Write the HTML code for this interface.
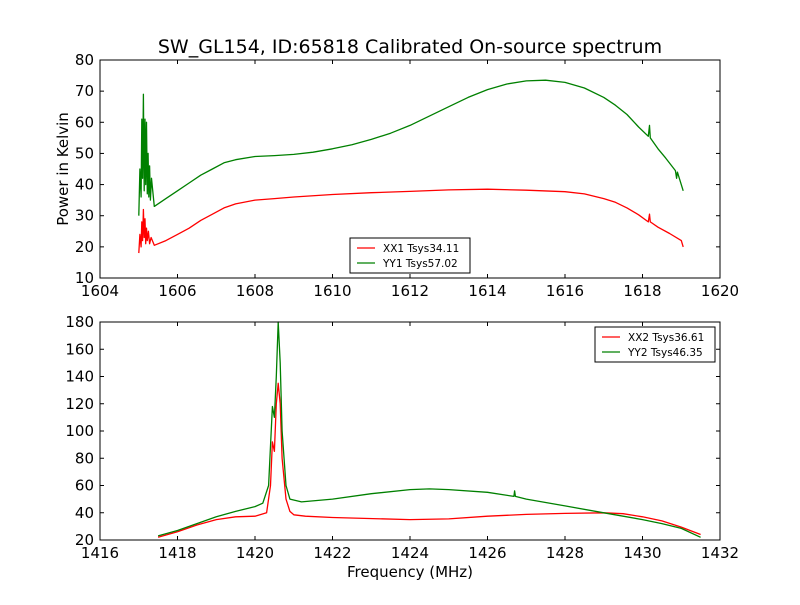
<!DOCTYPE html>
<html><head><meta charset="utf-8"><style>
body{margin:0;background:#fff;}
svg text{font-family:"DejaVu Sans","Liberation Sans",sans-serif;}
</style></head><body>
<svg id="c" width="800" height="600" viewBox="0 0 800 600">
<rect width="800" height="600" fill="#fff"/>
<text x="410" y="53" font-size="19" text-anchor="middle">SW_GL154, ID:65818 Calibrated On-source spectrum</text>
<g id="top"></g>
<g id="bot"></g>
<text x="410" y="577" font-size="15" text-anchor="middle">Frequency (MHz)</text>
<text transform="translate(68,169) rotate(-90)" font-size="15" text-anchor="middle">Power in Kelvin</text>
</svg>
<script>
const topXTicks=[1604,1606,1608,1610,1612,1614,1616,1618,1620];
const topYTicks=[10,20,30,40,50,60,70,80];
const botXTicks=[1416,1418,1420,1422,1424,1426,1428,1430,1432];
const botYTicks=[20,40,60,80,100,120,140,160,180];
const topGreenF=[1605.0,1605.03,1605.06,1605.08,1605.1,1605.12,1605.14,1605.16,1605.18,1605.2,1605.22,1605.24,1605.26,1605.28,1605.3,1605.33,1605.4,1605.7,1606,1606.3,1606.6,1606.9,1607.2,1607.5,1608,1608.5,1609,1609.5,1610,1610.5,1611,1611.5,1612,1612.5,1613,1613.5,1614,1614.5,1615,1615.5,1616,1616.5,1617,1617.3,1617.6,1617.9,1618.15,1618.18,1618.2,1618.4,1618.6,1618.85,1618.88,1618.9,1619.05];
const topGreenV=[30,45,36,61,42,69,38,61,40,60,37,50,36,46,35,42,33,35.5,38,40.5,43,45,47,48,49,49.3,49.7,50.4,51.5,52.8,54.5,56.5,59,62,65,68,70.5,72.3,73.3,73.5,72.8,71,68,65.5,62.5,58.5,55.5,59,55,51.5,48.5,44.5,42,44,38];
const topRedF=[1605.0,1605.03,1605.06,1605.08,1605.1,1605.12,1605.14,1605.16,1605.18,1605.2,1605.22,1605.25,1605.28,1605.32,1605.4,1605.7,1606,1606.3,1606.6,1606.9,1607.2,1607.5,1608,1608.5,1609,1610,1611,1612,1613,1614,1615,1616,1616.5,1617,1617.3,1617.6,1617.9,1618.15,1618.18,1618.2,1618.4,1618.7,1619,1619.05];
const topRedV=[18,24,20,28,22,32,23,29,21,26,22,25,21,23,20.5,22,24,26,28.5,30.5,32.5,33.8,35,35.5,36,36.8,37.4,37.8,38.3,38.5,38.2,37.7,37,35.5,34.3,32.5,30.3,28,30.5,28,26.3,24.3,22,20];
const botGreenF=[1417.5,1418,1418.5,1419,1419.5,1420,1420.2,1420.35,1420.45,1420.5,1420.55,1420.6,1420.65,1420.7,1420.8,1420.9,1421.2,1422,1423,1424,1424.5,1425,1426,1426.68,1426.7,1426.72,1427,1428,1429,1430,1430.5,1431,1431.5];
const botGreenV=[23,27,32,37,41,44.5,47,60,118,110,140,180,150,100,60,50,48,50,54,57,57.5,57,55,52,56,52,50,45,40,35,32,28.5,22];
const botRedF=[1417.5,1418,1418.5,1419,1419.5,1420,1420.3,1420.4,1420.45,1420.5,1420.55,1420.6,1420.65,1420.7,1420.8,1420.9,1421,1421.3,1422,1424,1425,1426,1427,1428,1429,1429.5,1430,1430.5,1431,1431.5];
const botRedV=[22,26,31,35,37,37.5,40,60,92,85,120,135,120,80,50,41,38.5,37.5,36.5,35,35.5,37.5,38.8,39.5,40,39.3,37,34,29.5,24];
const NS='http://www.w3.org/2000/svg';
function mk(t,a,p){const e=document.createElementNS(NS,t);for(const k in a)e.setAttribute(k,a[k]);p.appendChild(e);return e;}
function panel(g,L,T,R,B,xt,yt,series,legend,lx,ly,lw){
 const x0=xt[0],x1=xt[xt.length-1],y0=yt[0],y1=yt[yt.length-1];
 const sx=v=>L+(v-x0)/(x1-x0)*(R-L), sy=v=>B-(v-y0)/(y1-y0)*(B-T);
 series.forEach(s=>{
  const p=mk('polyline',{points:s.f.map((f,i)=>sx(f).toFixed(1)+','+sy(s.v[i]).toFixed(1)).join(' '),fill:'none',stroke:s.c,'stroke-width':1.3,'stroke-linejoin':'round'},g);
  
  
 });
 const fr=mk('rect',{x:L,y:T,width:R-L,height:B-T,fill:'none',stroke:'#000','stroke-width':1},g);
 
 
 xt.forEach(v=>{const x=sx(v);mk('line',{x1:x,x2:x,y1:B,y2:B-4,stroke:'#000'},g);mk('line',{x1:x,x2:x,y1:T,y2:T+4,stroke:'#000'},g);
  const t=mk('text',{x:x,y:B+18,'font-size':15,'text-anchor':'middle'},g);t.textContent=v;
  
  });
 yt.forEach(v=>{const y=sy(v);mk('line',{x1:L,x2:L+4,y1:y,y2:y,stroke:'#000'},g);mk('line',{x1:R,x2:R-4,y1:y,y2:y,stroke:'#000'},g);
  const t=mk('text',{x:L-6,y:y+5,'font-size':15,'text-anchor':'end'},g);t.textContent=v;
  
  });
 const lg=mk('g',{},g);
 
 
 mk('rect',{x:lx,y:ly,width:lw,height:35,fill:'#fff',stroke:'#000'},lg);
 legend.forEach((l,i)=>{const y=ly+10+i*15;mk('line',{x1:lx+7,x2:lx+25,y1:y,y2:y,stroke:l.c,'stroke-width':1.3},lg);
  const t=mk('text',{x:lx+33,y:y+4,'font-size':10.5},lg);t.textContent=l.t;
  
  });
}
panel(document.getElementById('top'),100,60,720,278,topXTicks,topYTicks,
 [{f:topRedF,v:topRedV,c:'#ff0000',name:'xx1-line'},{f:topGreenF,v:topGreenV,c:'#008000',name:'yy1-line'}],
 [{c:'#ff0000',t:'XX1 Tsys34.11'},{c:'#008000',t:'YY1 Tsys57.02'}],350,238,120);
panel(document.getElementById('bot'),100,322,720,540,botXTicks,botYTicks,
 [{f:botRedF,v:botRedV,c:'#ff0000',name:'xx2-line'},{f:botGreenF,v:botGreenV,c:'#008000',name:'yy2-line'}],
 [{c:'#ff0000',t:'XX2 Tsys36.61'},{c:'#008000',t:'YY2 Tsys46.35'}],595,327,120);
</script>
</body></html>
